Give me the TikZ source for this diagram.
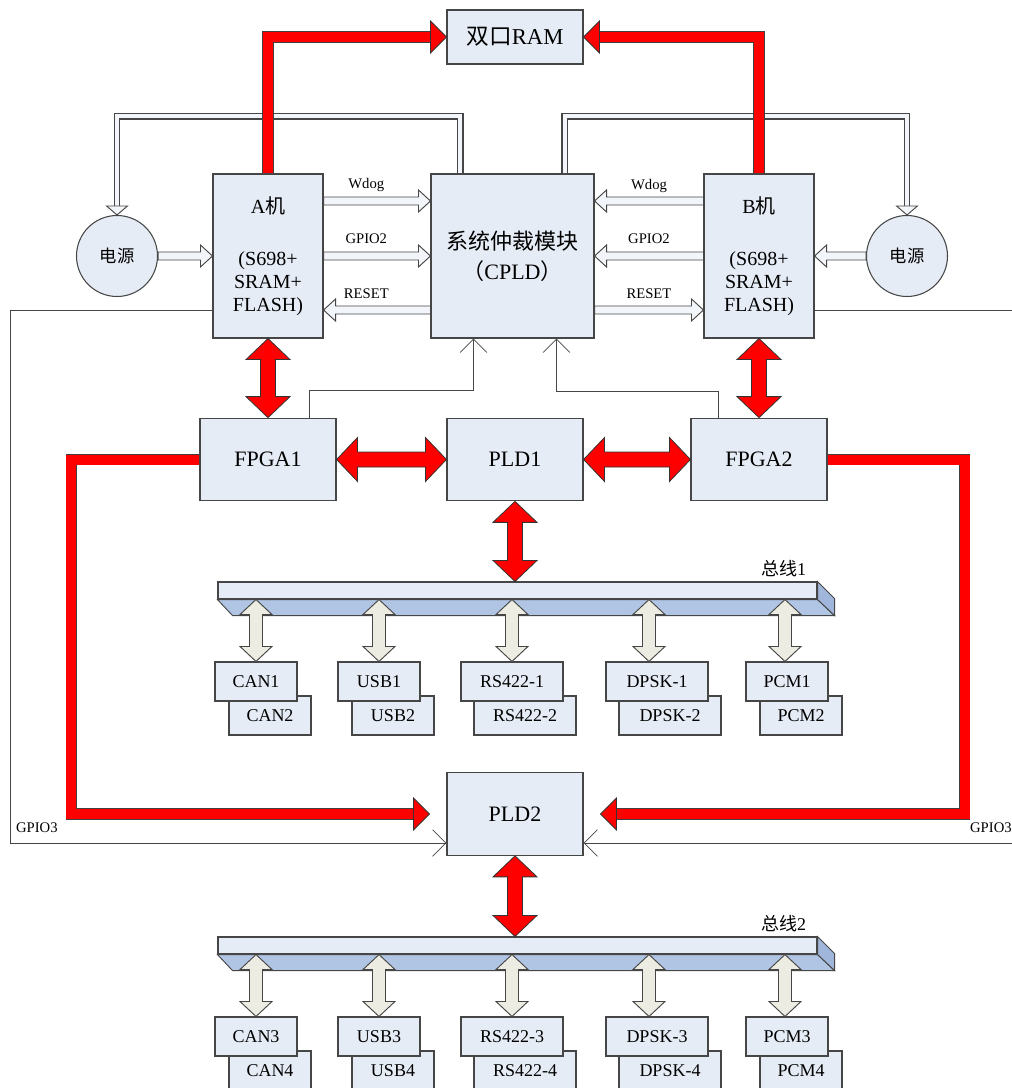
\documentclass[tikz,border=0pt]{standalone}
\usepackage{fontspec}
\setmainfont{Liberation Serif}
\newfontfamily\cjk{Noto Sans CJK SC}
\usepackage{tikz}
\usetikzlibrary{positioning,calc,arrows.meta}
\definecolor{boxfill}{RGB}{230,236,246}
\definecolor{busdark}{RGB}{176,196,228}
\definecolor{busside}{RGB}{160,182,218}
\definecolor{beige}{RGB}{236,236,226}
\definecolor{hollowfill}{RGB}{242,245,250}
\definecolor{lineg}{RGB}{70,70,70}
\tikzset{
  block/.style   = {draw=lineg, line width=0.8pt, fill=boxfill, rectangle,
                    inner sep=0pt, align=center},
  unit/.style    = {block, minimum width=102pt, minimum height=62pt,
                    font=\fontsize{16.5}{20}\selectfont},
  cpu/.style     = {block, minimum width=82.5pt, minimum height=123pt,
                    font=\fontsize{15}{17.25}\selectfont},
  dev/.style     = {block, minimum width=61.5pt, minimum height=29.25pt,
                    font=\fontsize{13.5}{16}\selectfont},
  devw/.style    = {dev, minimum width=76.5pt},
  pwr/.style     = {circle, draw=lineg, line width=0.8pt, fill=boxfill,
                    minimum size=60.75pt, inner sep=0pt,
                    font=\fontsize{13}{15}\selectfont},
  bustop/.style  = {block, minimum width=449.25pt, minimum height=12.75pt},
  busface/.style = {draw=lineg, line width=0.7pt, fill=busdark},
  busend/.style  = {draw=lineg, line width=0.7pt, fill=busside},
  fat/.style     = {fill=red, draw=black!80, line width=0.6pt},
  busarr/.style  = {fill=beige, draw=lineg, line width=0.7pt},
  hollow/.style  = {fill=hollowfill, draw=lineg, line width=0.7pt},
  redpipe/.style = {draw=black!75, line width=0.45pt, double=red,
                    double distance=7.5pt},
  hpipe/.style   = {draw=lineg, line width=0.8pt, double=hollowfill,
                    double distance=3pt},
  thinsig/.style = {draw=lineg, line width=0.6pt,
                    -{Straight Barb[length=10pt,width=20pt]}},
  siglbl/.style  = {inner sep=1pt, font=\fontsize{11}{13}\selectfont},
  buslbl/.style  = {inner sep=1pt, font=\fontsize{13.5}{16}\selectfont}
}
% red double arrows, #1 and #2 are the two tips
\newcommand{\fatv}[2]{\filldraw[fat] (#1) -- ($(#1)+(22,21)$) -- ($(#1)+(7.5,21)$)
  -- ($(#2)+(7.5,-21)$) -- ($(#2)+(22,-21)$) -- (#2) -- ($(#2)+(-22,-21)$)
  -- ($(#2)+(-7.5,-21)$) -- ($(#1)+(-7.5,21)$) -- ($(#1)+(-22,21)$) -- cycle;}
\newcommand{\fath}[2]{\filldraw[fat] (#1) -- ($(#1)+(21,-22)$) -- ($(#1)+(21,-7.5)$)
  -- ($(#2)+(-21,-7.5)$) -- ($(#2)+(-21,-22)$) -- (#2) -- ($(#2)+(-21,22)$)
  -- ($(#2)+(-21,7.5)$) -- ($(#1)+(21,7.5)$) -- ($(#1)+(21,22)$) -- cycle;}
% bus arrows
\newcommand{\busv}[2]{\filldraw[busarr] (#1) -- ($(#1)+(16,15)$) -- ($(#1)+(6.5,15)$)
  -- ($(#2)+(6.5,-15)$) -- ($(#2)+(16,-15)$) -- (#2) -- ($(#2)+(-16,-15)$)
  -- ($(#2)+(-6.5,-15)$) -- ($(#1)+(-6.5,15)$) -- ($(#1)+(-16,15)$) -- cycle;}
% hollow single arrow: tail, tip, direction (1 right, -1 left)
\newcommand{\sigarr}[3]{\filldraw[hollow] ($(#1)+(0,-4)$) -- ($(#2)+({-12*(#3)},-4)$)
  -- ($(#2)+({-12*(#3)},-11)$) -- (#2) -- ($(#2)+({-12*(#3)},11)$)
  -- ($(#2)+({-12*(#3)},4)$) -- ($(#1)+(0,4)$) -- cycle;}
\newcommand{\redhead}[2]{\filldraw[fat] (#1) -- ($(#1)+({-16*(#2)},-16)$)
  -- ($(#1)+({-16*(#2)},16)$) -- cycle;}
\newcommand{\pwrhead}[1]{\filldraw[hollow] (#1) -- ($(#1)+(-10.5,-9)$)
  -- ($(#1)+(10.5,-9)$) -- cycle;}

\begin{document}
\begin{tikzpicture}[x=0.75pt,y=-0.75pt]
\useasboundingbox (0,0) rectangle (1012,1088);
\clip (0,0) rectangle (1012,1088);

% main blocks
\node[block, minimum width=102pt, minimum height=40.5pt,
      font=\fontsize{17}{20}\selectfont] (RAM) at (515,37) {{\cjk 双口}RAM};
\node[cpu] (A) at (268,256) {A{\cjk 机}\\[22pt](S698+\\SRAM+\\FLASH)};
\node[cpu] (B) at (759,256) {B{\cjk 机}\\[22pt](S698+\\SRAM+\\FLASH)};
\node[block, minimum width=122.25pt, minimum height=123pt,
      font=\fontsize{16.5}{22.5}\selectfont] (C) at (512.5,256)
      {{\cjk 系统仲裁模块}\\{\cjk （}CPLD{\cjk ）}};
\node[pwr] (PL) at (117,256) {{\cjk 电源}};
\node[pwr] (PR) at (907,256) {{\cjk 电源}};
\node[unit] (F1) at (268,459.5) {FPGA1};
\node[unit] (P1) at (515,459.5) {PLD1};
\node[unit] (F2) at (759,459.5) {FPGA2};
\node[unit] (P2) at (515,814) {PLD2};

% buses
\node[bustop] (bus1) at (517.5,590.5) {};
\filldraw[busface] (bus1.south west) -- (bus1.south east) -- ($(bus1.south east)+(17,16)$)
  -- ($(bus1.south west)+(15,16)$) -- cycle;
\filldraw[busend] (bus1.north east) -- ($(bus1.north east)+(17,17)$)
  -- ($(bus1.south east)+(17,16)$) -- (bus1.south east) -- cycle;
\node[buslbl] (bl1) at ($(bus1.north east)+(-34,-13)$) {{\cjk 总线}1};
\node[bustop] (bus2) at (517.5,945.5) {};
\filldraw[busface] (bus2.south west) -- (bus2.south east) -- ($(bus2.south east)+(17,16)$)
  -- ($(bus2.south west)+(15,16)$) -- cycle;
\filldraw[busend] (bus2.north east) -- ($(bus2.north east)+(17,17)$)
  -- ($(bus2.south east)+(17,16)$) -- (bus2.south east) -- cycle;
\node[buslbl] (bl2) at ($(bus2.north east)+(-34,-13)$) {{\cjk 总线}2};

% devices on bus 1
\node[dev]  (can2) at (270,715.5) {CAN2};
\node[dev]  (can1) at (256,681.5) {CAN1};
\node[dev]  (usb2) at (393,715.5) {USB2};
\node[dev]  (usb1) at (379,681.5) {USB1};
\node[devw] (rs2)  at (525,715.5) {RS422-2};
\node[devw] (rs1)  at (512,681.5) {RS422-1};
\node[devw] (dp2)  at (670,715.5) {DPSK-2};
\node[devw] (dp1)  at (657,681.5) {DPSK-1};
\node[dev]  (pcm2) at (801,715.5) {PCM2};
\node[dev]  (pcm1) at (787,681.5) {PCM1};
% devices on bus 2
\node[dev]  (can4) at (270,1070.5) {CAN4};
\node[dev]  (can3) at (256,1036.5) {CAN3};
\node[dev]  (usb4) at (393,1070.5) {USB4};
\node[dev]  (usb3) at (379,1036.5) {USB3};
\node[devw] (rs4)  at (525,1070.5) {RS422-4};
\node[devw] (rs3)  at (512,1036.5) {RS422-3};
\node[devw] (dp4)  at (670,1070.5) {DPSK-4};
\node[devw] (dp3)  at (657,1036.5) {DPSK-3};
\node[dev]  (pcm4) at (801,1070.5) {PCM4};
\node[dev]  (pcm3) at (787,1036.5) {PCM3};

\coordinate (dk1) at ($(dp1.north)+(-8,0)$);
\coordinate (pc1) at ($(pcm1.north)+(-2,0)$);
\coordinate (dk3) at ($(dp3.north)+(-8,0)$);
\coordinate (pc3) at ($(pcm3.north)+(-2,0)$);
\busv{can1.north |- bus1.south}{can1.north}
\busv{usb1.north |- bus1.south}{usb1.north}
\busv{rs1.north |- bus1.south}{rs1.north}
\busv{dk1 |- bus1.south}{dk1}
\busv{pc1 |- bus1.south}{pc1}
\busv{can3.north |- bus2.south}{can3.north}
\busv{usb3.north |- bus2.south}{usb3.north}
\busv{rs3.north |- bus2.south}{rs3.north}
\busv{dk3 |- bus2.south}{dk3}
\busv{pc3 |- bus2.south}{pc3}

% power feedback from the arbiter
\coordinate (ptop) at ($(C.north)+(0,-57)$);
\coordinate (pw1) at ($(C.north west)+(30,0)$);
\coordinate (pw2) at ($(C.north east)+(-30,0)$);
\draw[hpipe] (pw1) -- (pw1 |- ptop) -| ($(PL.north)+(0,-9)$);
\draw[hpipe] (pw2) -- (pw2 |- ptop) -| ($(PR.north)+(0,-9)$);
\pwrhead{PL.north}
\pwrhead{PR.north}
\sigarr{PL.east}{A.west}{1}
\sigarr{PR.west}{B.east}{-1}

% watchdog, gpio and reset
\coordinate (aw) at ($(A.east)+(0,-55)$);
\coordinate (ar) at ($(A.east)+(0,54)$);
\coordinate (bw) at ($(B.west)+(0,-55)$);
\coordinate (br) at ($(B.west)+(0,54)$);
\sigarr{aw}{aw -| C.west}{1}
\sigarr{A.east}{C.west}{1}
\sigarr{ar -| C.west}{ar}{-1}
\sigarr{bw}{bw -| C.east}{-1}
\sigarr{B.west}{C.east}{-1}
\sigarr{br -| C.east}{br}{1}
\node[siglbl] (lwd)  at ($(A.east)!0.4!(C.west)+(0,-71)$) {Wdog};
\node[siglbl] (lgp)  at ($(A.east)!0.4!(C.west)+(0,-17)$) {GPIO2};
\node[siglbl] (lrs)  at ($(A.east)!0.4!(C.west)+(0,38)$) {RESET};
\node[siglbl] (rwd)  at ($(C.east)!0.5!(B.west)+(0,-70)$) {Wdog};
\node[siglbl] (rgp)  at ($(C.east)!0.5!(B.west)+(0,-17)$) {GPIO2};
\node[siglbl] (rrs)  at ($(C.east)!0.5!(B.west)+(0,38)$) {RESET};

% thin lines
\draw[thinsig] ($(F1.north east)+(-27,0)$) |- ($(C.south)+(-39,52)$) -- ($(C.south)+(-39,0)$);
\draw[thinsig] ($(F2.north west)+(28,0)$) |- ($(C.south)+(44,53)$) -- ($(C.south)+(44,0)$);
\draw[thinsig] ($(A.west)+(0,54)$) -| ($(P2.west)+(-436,29)$) -- ($(P2.west)+(0,29)$);
\draw[thinsig] ($(B.east)+(0,54)$) -| ($(P2.east)+(431,29)$) -- ($(P2.east)+(0,29)$);
\node[siglbl, anchor=west] (g3l) at ($(P2.west)+(-432,14)$) {GPIO3};
\node[siglbl, anchor=west] (g3r) at ($(P2.east)+(385,14)$) {GPIO3};

% red data paths
\draw[redpipe] (A.north) |- ($(RAM.west)+(-16,0)$);
\redhead{RAM.west}{1}
\draw[redpipe] (B.north) |- ($(RAM.east)+(16,0)$);
\redhead{RAM.east}{-1}
\draw[redpipe] (F1.west) -| ($(P2.west)+(-375,0)$) -- ($(P2.west)+(-32,0)$);
\redhead{$(P2.west)+(-17,0)$}{1}
\draw[redpipe] (F2.east) -| ($(P2.east)+(381,0)$) -- ($(P2.east)+(32,0)$);
\redhead{$(P2.east)+(17,0)$}{-1}

\fatv{A.south}{F1.north}
\fatv{B.south}{F2.north}
\fath{F1.east}{P1.west}
\fath{P1.east}{F2.west}
\fatv{P1.south}{P1.south |- bus1.north}
\fatv{P2.south}{P2.south |- bus2.north}
\end{tikzpicture}
\end{document}
